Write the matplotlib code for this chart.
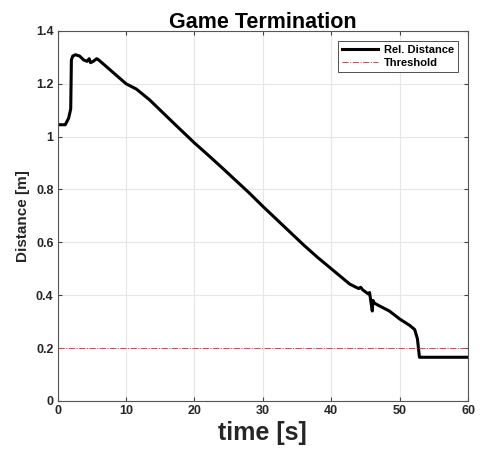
import numpy as np
import matplotlib.pyplot as plt

plt.rcParams['font.family'] = ['Liberation Sans', 'DejaVu Sans']

# --- data ---
t = [0.0, 1.1, 1.6, 1.9, 2.0, 2.2, 2.6, 3.2, 3.8, 4.3, 4.6, 4.8, 5.2, 5.7,
     6.0, 8.0, 10.0, 11.5, 13.4, 15.0, 17.0, 20.0, 22.0, 24.0, 26.0,
     28.0, 30.0, 32.0, 34.0, 36.0, 38.0, 40.0, 42.7, 44.0, 44.3, 44.6,
     45.4, 45.6, 46.0, 46.1, 46.3, 47.0, 48.5, 50.0, 51.5, 52.2, 52.6,
     52.9, 53.3, 55.0, 60.0]
dist = [1.045, 1.045, 1.07, 1.105, 1.29, 1.305, 1.31, 1.305, 1.29, 1.285,
        1.295, 1.28, 1.285, 1.295, 1.29, 1.245, 1.20, 1.18, 1.14, 1.10,
        1.05, 0.976, 0.93, 0.883, 0.835, 0.787, 0.736, 0.687, 0.638,
        0.589, 0.543, 0.50, 0.442, 0.425, 0.43, 0.42, 0.405, 0.41, 0.34,
        0.38, 0.37, 0.36, 0.34, 0.31, 0.285, 0.27, 0.235, 0.165, 0.165,
        0.165, 0.165]
threshold = 0.2

fig, ax = plt.subplots(figsize=(4.81, 4.55), dpi=100)
fig.subplots_adjust(left=0.12, right=0.973, top=0.932, bottom=0.119)

ax.plot(t, dist, color='black', linewidth=2.2, label='Rel. Distance')
ax.axhline(threshold, color='#f03c3c', linestyle='-.', linewidth=0.7,
           label='Threshold')

ax.set_xlim(0, 60)
ax.set_ylim(0, 1.4)
ax.set_xticks(np.arange(0, 61, 10))
ax.set_yticks(np.arange(0, 1.41, 0.2))
ax.set_yticklabels(['0', '0.2', '0.4', '0.6', '0.8', '1', '1.2', '1.4'])
ax.grid(True, color='#e6e6e6', linewidth=0.8)
ax.set_axisbelow(True)
ax.tick_params(direction='in', top=True, right=True, labelsize=9,
               length=3, color='#444444', pad=3)
for lab in ax.get_xticklabels() + ax.get_yticklabels():
    lab.set_fontweight('bold')
    lab.set_color('#262626')
for s in ax.spines.values():
    s.set_color('#555555')
    s.set_linewidth(0.8)

ax.set_title('Game Termination', fontsize=15.5, fontweight='bold', pad=2)
ax.set_xlabel('time [s]', fontsize=18, fontweight='bold', color='#262626',
              labelpad=3)
ax.set_ylabel('Distance [m]', fontsize=11, fontweight='bold', color='#262626',
              labelpad=4)

leg = ax.legend(loc='upper right', fontsize=8, fancybox=False,
                framealpha=1, edgecolor='#333333', borderpad=0.35,
                handlelength=3.3, handletextpad=0.5, labelspacing=0.3,
                borderaxespad=0.9)
for txt in leg.get_texts():
    txt.set_fontweight('bold')
leg.get_frame().set_linewidth(0.6)

fig.savefig('out.png', dpi=100)
